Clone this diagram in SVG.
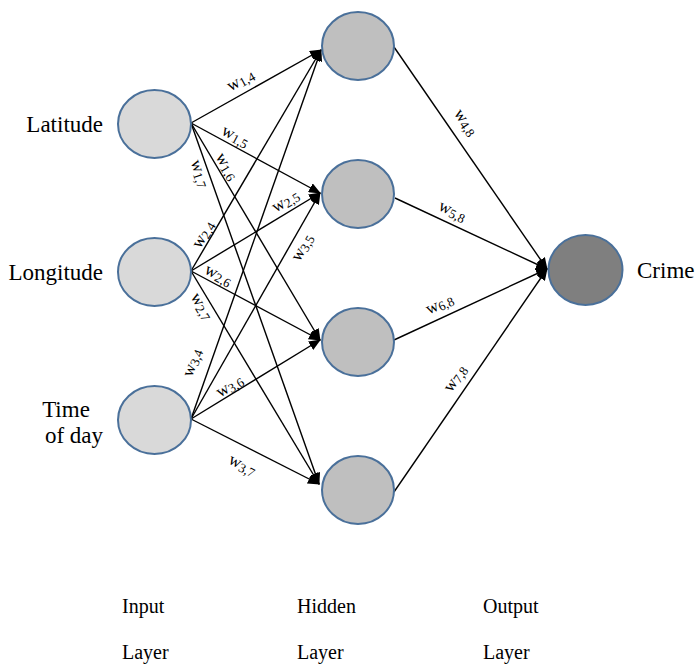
<svg xmlns="http://www.w3.org/2000/svg" width="698" height="667" viewBox="0 0 698 667">
<defs>
<marker id="arr" viewBox="0 0 12 10" refX="11" refY="5" markerWidth="12" markerHeight="10" markerUnits="userSpaceOnUse" orient="auto">
<path d="M0,0 L12,5 L0,10 z" fill="#000"/>
</marker>
</defs>
<style>
.in{fill:#d9d9d9;stroke:#4a709a;stroke-width:2}
.hid{fill:#bfbfbf;stroke:#4a709a;stroke-width:2}
.out{fill:#7f7f7f;stroke:#4a709a;stroke-width:2}
.lbl{font-size:23px;fill:#000}
.lay{font-size:20px;fill:#000}
.w{font-size:17px;fill:#000;text-anchor:middle}
.s{font-size:13px}
line{stroke:#000;stroke-width:1.4;marker-end:url(#arr)}
</style>
<rect width="698" height="667" fill="#fff"/>
<g id="connectors">
<line x1="191" y1="123" x2="321" y2="50"/>
<line x1="191" y1="123" x2="320" y2="193"/>
<line x1="191" y1="123" x2="320" y2="340"/>
<line x1="191" y1="123" x2="319" y2="484"/>
<line x1="191" y1="271" x2="321" y2="50"/>
<line x1="191" y1="271" x2="320" y2="193"/>
<line x1="191" y1="271" x2="320" y2="340"/>
<line x1="191" y1="271" x2="319" y2="484"/>
<line x1="191" y1="419" x2="321" y2="50"/>
<line x1="191" y1="419" x2="320" y2="193"/>
<line x1="191" y1="419" x2="320" y2="340"/>
<line x1="191" y1="419" x2="319" y2="484"/>
<line x1="394" y1="47" x2="547" y2="269"/>
<line x1="395" y1="198" x2="547" y2="269"/>
<line x1="394" y1="340" x2="547" y2="269"/>
<line x1="394" y1="492" x2="547" y2="269"/>
</g>
<g id="weights" font-family="Liberation Serif, DejaVu Serif, serif">
<text class="w" transform="translate(241,81) rotate(-29.3)" y="4">w<tspan class="s" dy="2">1,4</tspan></text>
<text class="w" transform="translate(235,137) rotate(28.5)" y="4">w<tspan class="s" dy="2">1,5</tspan></text>
<text class="w" transform="translate(226,167) rotate(59.3)" y="4">w<tspan class="s" dy="2">1,6</tspan></text>
<text class="w" transform="translate(199,174) rotate(70.5)" y="4">w<tspan class="s" dy="2">1,7</tspan></text>
<text class="w" transform="translate(204,235) rotate(-59.5)" y="4">w<tspan class="s" dy="2">2,4</tspan></text>
<text class="w" transform="translate(286,202) rotate(-31.2)" y="4">w<tspan class="s" dy="2">2,5</tspan></text>
<text class="w" transform="translate(218,276) rotate(28.1)" y="4">w<tspan class="s" dy="2">2,6</tspan></text>
<text class="w" transform="translate(201,307) rotate(59)" y="4">w<tspan class="s" dy="2">2,7</tspan></text>
<text class="w" transform="translate(193,363) rotate(-70.6)" y="4">w<tspan class="s" dy="2">3,4</tspan></text>
<text class="w" transform="translate(303,248) rotate(-60.3)" y="4">w<tspan class="s" dy="2">3,5</tspan></text>
<text class="w" transform="translate(230,387) rotate(-31.5)" y="4">w<tspan class="s" dy="2">3,6</tspan></text>
<text class="w" transform="translate(242,466) rotate(26.9)" y="4">w<tspan class="s" dy="2">3,7</tspan></text>
<text class="w" transform="translate(465,123) rotate(55.4)" y="4">w<tspan class="s" dy="2">4,8</tspan></text>
<text class="w" transform="translate(452,212) rotate(25)" y="4">w<tspan class="s" dy="2">5,8</tspan></text>
<text class="w" transform="translate(440,305) rotate(-24.9)" y="4">w<tspan class="s" dy="2">6,8</tspan></text>
<text class="w" transform="translate(456,379) rotate(-55.5)" y="4">w<tspan class="s" dy="2">7,8</tspan></text>
</g>
<g id="n1"><ellipse class="in" cx="154.5" cy="124" rx="36.5" ry="34"/><text class="lbl" font-family="Liberation Serif, DejaVu Serif, serif" x="103" y="132" text-anchor="end">Latitude</text></g>
<g id="n2"><ellipse class="in" cx="154.5" cy="272" rx="36.5" ry="34"/><text class="lbl" font-family="Liberation Serif, DejaVu Serif, serif" x="103" y="280" text-anchor="end">Longitude</text></g>
<g id="n3"><ellipse class="in" cx="154.5" cy="420" rx="36.5" ry="34"/><text class="lbl" font-family="Liberation Serif, DejaVu Serif, serif" x="66" y="417" text-anchor="middle">Time</text><text class="lbl" font-family="Liberation Serif, DejaVu Serif, serif" x="103" y="443" text-anchor="end">of day</text></g>
<g id="n4"><ellipse class="hid" cx="358" cy="46" rx="36" ry="34"/></g>
<g id="n5"><ellipse class="hid" cx="358" cy="194" rx="36" ry="34"/></g>
<g id="n6"><ellipse class="hid" cx="358" cy="342" rx="36" ry="34"/></g>
<g id="n7"><ellipse class="hid" cx="358" cy="490" rx="36" ry="34"/></g>
<g id="n8"><ellipse class="out" cx="585.5" cy="270" rx="37" ry="35"/><text class="lbl" font-family="Liberation Serif, DejaVu Serif, serif" x="637" y="278">Crime</text></g>
<g id="layers" font-family="Liberation Serif, DejaVu Serif, serif">
<text class="lay" x="122" y="613">Input</text>
<text class="lay" x="122" y="659">Layer</text>
<text class="lay" x="297" y="613">Hidden</text>
<text class="lay" x="297" y="659">Layer</text>
<text class="lay" x="483" y="613">Output</text>
<text class="lay" x="483" y="659">Layer</text>
</g>
</svg>
